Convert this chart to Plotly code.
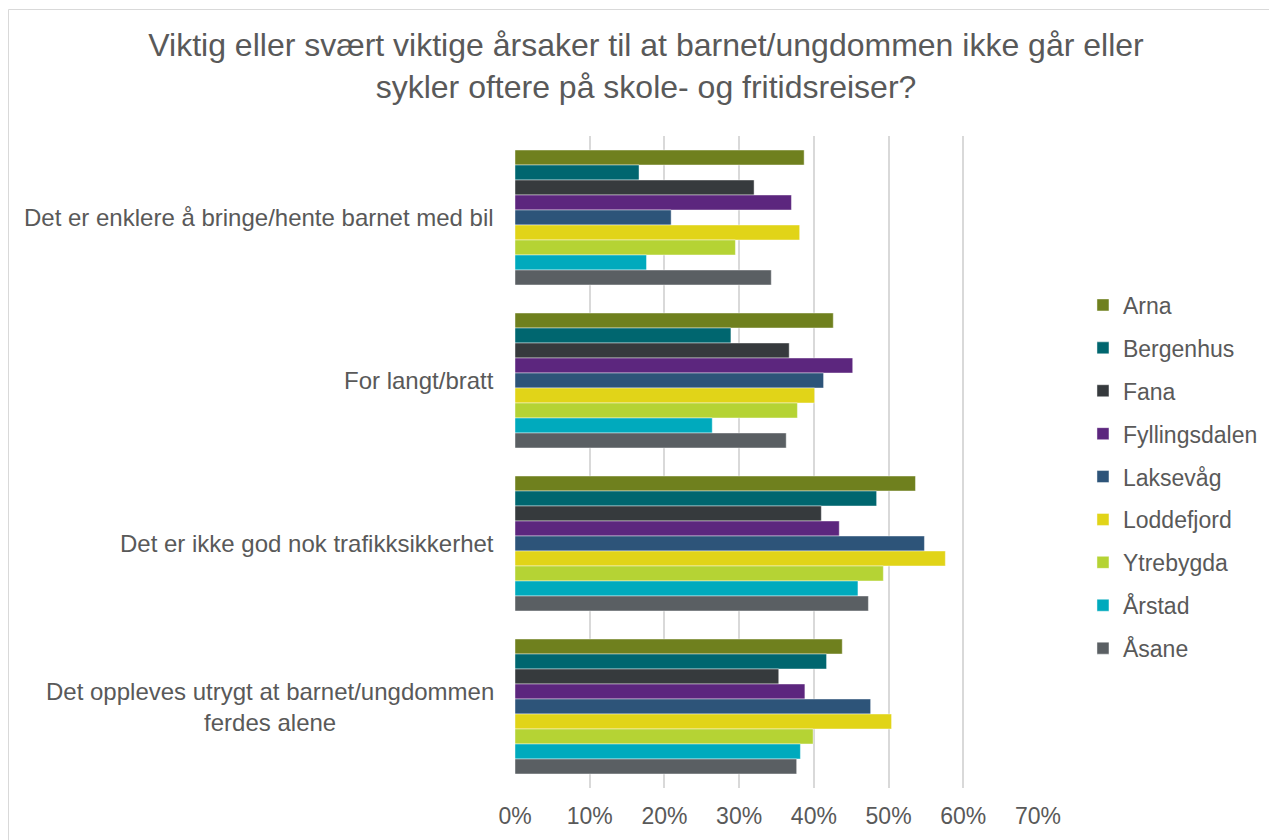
import plotly.graph_objects as go

# survey answers, share (%) saying "important" or "very important"
categories = [
    "Det er enklere å bringe/hente barnet med bil",
    "For langt/bratt",
    "Det er ikke god nok trafikksikkerhet",
    "Det oppleves utrygt at barnet/ungdommen<br>ferdes alene",
]

arna = [38.7, 42.6, 53.6, 43.8]
bergenhus = [16.6, 28.9, 48.4, 41.7]
fana = [32.0, 36.7, 41.0, 35.3]
fyllingsdalen = [37.0, 45.2, 43.4, 38.8]
laksevag = [20.9, 41.3, 54.8, 47.6]
loddefjord = [38.1, 40.1, 57.6, 50.4]
ytrebygda = [29.5, 37.8, 49.3, 39.9]
arstad = [17.6, 26.4, 45.9, 38.2]
asane = [34.3, 36.3, 47.3, 37.7]

x_ticks = [0, 10, 20, 30, 40, 50, 60, 70]
x_tick_labels = ["0%", "10%", "20%", "30%", "40%", "50%", "60%", "70%"]

series = [
    ("Arna", arna, "#6F801E"),
    ("Bergenhus", bergenhus, "#00666F"),
    ("Fana", fana, "#363A3D"),
    ("Fyllingsdalen", fyllingsdalen, "#5C267E"),
    ("Laksevåg", laksevag, "#2D5479"),
    ("Loddefjord", loddefjord, "#E1D418"),
    ("Ytrebygda", ytrebygda, "#B5D334"),
    ("Årstad", arstad, "#00AABD"),
    ("Åsane", asane, "#5A5F63"),
]

FONT = "Arial, Liberation Sans, sans-serif"
GREY = "#595959"

# page has an 8px body margin, so the figure is sized to the visible area
W, H = 1269, 832

fig = go.Figure()
for name, vals, color in series:
    fig.add_trace(go.Bar(
        name=name, x=vals, y=categories, orientation="h",
        legendgroup=name,
        marker=dict(color=color, line=dict(color="rgba(255,255,255,0.55)", width=0.8)),
    ))

# category labels as annotations so wrapped lines stay centred
for cat in categories:
    fig.add_annotation(
        x=0, xref="paper", xshift=-19, xanchor="right",
        y=cat, yref="y", yanchor="middle",
        text=cat, showarrow=False, align="center",
        font=dict(family=FONT, size=24, color=GREY),
    )

# thin chart border (runs off the right and bottom edges)
fig.add_shape(
    type="rect", xref="paper", yref="paper",
    x0=-506.5 / 523, x1=1.5, y0=-0.12, y1=(780 - 1.5) / 652,
    line=dict(color="#D9D9D9", width=1), fillcolor="rgba(0,0,0,0)", layer="below",
)

fig.update_layout(
    width=W, height=H,
    margin=dict(l=507, r=239, t=128, b=52),
    paper_bgcolor="white", plot_bgcolor="white",
    title=dict(
        text="Viktig eller svært viktige årsaker til at barnet/ungdommen ikke går eller<br>sykler oftere på skole- og fritidsreiser?",
        x=638 / W, xanchor="center", xref="container",
        y=1 - 48 / H, yanchor="middle", yref="container",
        font=dict(family=FONT, size=32, color=GREY),
    ),
    barmode="group", bargap=0.172, bargroupgap=0,
    legend=dict(
        x=1.086, xanchor="left", y=0.477, yanchor="middle",
        font=dict(family=FONT, size=23, color=GREY),
        tracegroupgap=10, traceorder="grouped",
        bgcolor="rgba(0,0,0,0)",
    ),
    font=dict(family=FONT, color=GREY),
)

fig.update_xaxes(
    range=[0, 70], tickvals=x_ticks, ticktext=x_tick_labels,
    showgrid=True, gridcolor="#D9D9D9", gridwidth=1.5,
    zeroline=False, showline=False,
    ticklabelstandoff=12,
    tickfont=dict(family=FONT, size=23, color=GREY),
)
fig.update_yaxes(
    autorange="reversed", showticklabels=False,
    showgrid=False, zeroline=False, showline=False,
)

fig.write_html("out.html")
